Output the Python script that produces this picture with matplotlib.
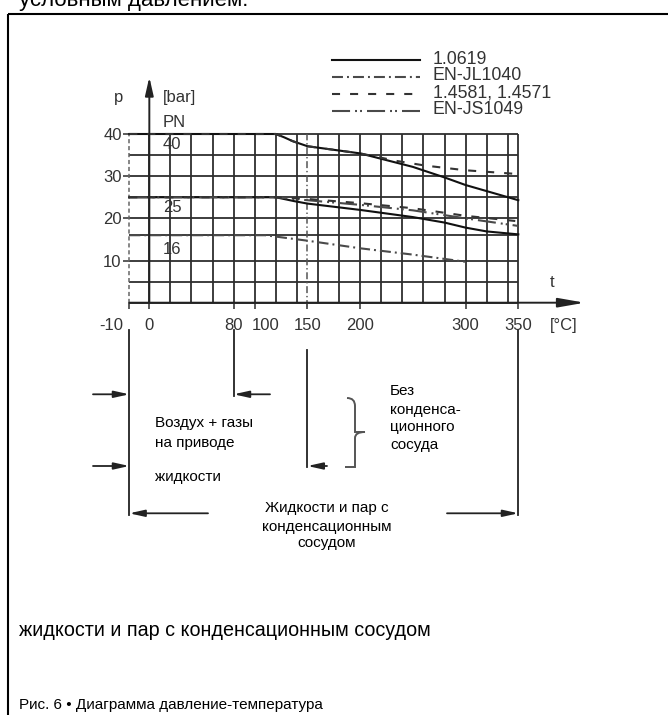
import numpy as np
import matplotlib
matplotlib.use('Agg')
import matplotlib.pyplot as plt
from matplotlib.path import Path
from matplotlib.patches import PathPatch

plt.rcParams['font.family'] = ['Liberation Sans', 'DejaVu Sans']
plt.rcParams['lines.scale_dashes'] = False

# values
series_names = ['1.0619', 'EN-JL1040', '1.4581, 1.4571', 'EN-JS1049']

# PN 40
t_1_0619_pn40 = [-10, 120, 128, 136, 150, 200, 250, 280, 300, 350]
p_1_0619_pn40 = [40, 40, 39.2, 38.3, 37.1, 35.4, 32.2, 29.7, 27.9, 24.3]
t_1_4581_pn40 = [-10, 120, 128, 136, 150, 200, 235, 262, 300, 350]
p_1_4581_pn40 = [40, 40, 39.2, 38.3, 37.1, 35.4, 33.6, 32.5, 31.4, 30.5]
# PN 25
t_1_0619_pn25 = [-10, 120, 137, 150, 200, 250, 280, 300, 320, 350]
p_1_0619_pn25 = [25, 25, 24.1, 23.5, 22.0, 20.3, 19.0, 17.8, 16.9, 16.2]
t_1_4581_pn25 = [-10, 120, 150, 200, 250, 300, 350]
p_1_4581_pn25 = [25, 25, 24.6, 23.6, 22.4, 20.6, 19.3]
t_js1049_pn25 = [-10, 120, 150, 200, 250, 300, 350]
p_js1049_pn25 = [25, 25, 24.3, 23.2, 21.9, 20.0, 18.2]
# PN 16
t_jl1040_pn16 = [-10, 110, 150, 200, 250, 300]
p_jl1040_pn16 = [16, 16, 14.7, 12.9, 11.4, 9.7]

grid_t = list(range(0, 341, 20)) + [350]
grid_p = [0, 5, 10, 16, 20, 25, 30, 35, 40]
xtick_vals = [-10, 0, 80, 100, 150, 200, 300, 350]
xtick_labels = ['-10', '0', '80', '100', '150', '200', '300', '350']
xlabel_pos = [-13, 0, 80, 110, 150, 200, 300, 350]
ytick_vals = [10, 20, 30, 40]
pn_labels = ['40', '25', '16']
pn_label_p = [37.5, 22.5, 12.5]

INK = '#222222'
GRID = '#2e2e2e'
GREY = '#4a4a4a'
TXT = '#333333'
styles = {
    '1.0619': dict(color='#111111', ls='-'),
    'EN-JL1040': dict(color=GREY, ls=(0, (7.9, 2.9, 1.4, 2.9))),
    '1.4581, 1.4571': dict(color='#333333', ls=(0, (5.8, 7.2))),
    'EN-JS1049': dict(color=GREY, ls=(0, (13, 3.6, 1.4, 2.2, 1.4, 3.6))),
}


def fwd(t):
    t = np.asarray(t, dtype=float)
    return np.where(t < 0, t * 1.9, t)


def inv(x):
    x = np.asarray(x, dtype=float)
    return np.where(x < 0, x / 1.9, x)


fig = plt.figure(figsize=(6.68, 7.15), dpi=100)

# overlay in pixel coordinates for the frame and the notes
ax_o = fig.add_axes([0, 0, 1, 1])
ax_o.set_xlim(0, 668)
ax_o.set_ylim(715, 0)
ax_o.axis('off')

ax = fig.add_axes([129.3 / 668, (715 - 302.7) / 715, 389 / 668, 168.7 / 715])
ax.set_facecolor('none')
ax.set_xscale('function', functions=(fwd, inv))
ax.set_xlim(-10, 350)
ax.set_ylim(0, 40)
for s in ax.spines.values():
    s.set_visible(False)

# grid
ax.vlines(grid_t, 0, 40, color=GRID, lw=1.3, clip_on=False, zorder=1)
ax.hlines(grid_p, -10, 350, color=GRID, lw=1.3, clip_on=False, zorder=1)
ax.vlines(-10, 0, 40, color='#666666', lw=1.1, ls=(0, (3, 2)), clip_on=False, zorder=2)
ax.vlines(150, -1, 40, color='#555555', lw=1.1, ls=(0, (5, 2, 1, 2)), clip_on=False, zorder=2)

# curves
curves = [
    ('1.0619', t_1_0619_pn40, p_1_0619_pn40),
    ('1.4581, 1.4571', t_1_4581_pn40, p_1_4581_pn40),
    ('1.0619', t_1_0619_pn25, p_1_0619_pn25),
    ('EN-JS1049', t_js1049_pn25, p_js1049_pn25),
    ('1.4581, 1.4571', t_1_4581_pn25, p_1_4581_pn25),
    ('EN-JL1040', t_jl1040_pn16, p_jl1040_pn16),
]
for name, t, p in curves:
    st = styles[name]
    ax.plot(t, p, color=st['color'], ls=st['ls'], lw=1.5, clip_on=False, zorder=3)

# axes arrows
ax.annotate('', xy=(0, 53.5), xytext=(0, 0), annotation_clip=False,
            arrowprops=dict(arrowstyle='-|>,head_length=1.1,head_width=0.25', lw=1.4,
                            color=INK, shrinkA=0, shrinkB=0, mutation_scale=10))
ax.annotate('', xy=(413, 0), xytext=(-10, 0), annotation_clip=False,
            arrowprops=dict(arrowstyle='-|>,head_length=1.6,head_width=0.28', lw=1.4,
                            color=INK, shrinkA=0, shrinkB=0, mutation_scale=10))

# ticks
ax.set_xticks(xtick_vals)
ax.set_xticklabels([])
ax.tick_params(axis='x', length=4, width=1.1, color=GRID, direction='out')
ax.set_yticks(ytick_vals)
ax.set_yticklabels([str(v) for v in ytick_vals], fontsize=12, color=TXT)
ax.tick_params(axis='y', length=4, width=1.1, color=GRID, pad=1.5)
ax.minorticks_off()

tfs = 12
for pos, lab in zip(xlabel_pos, xtick_labels):
    ax.text(pos, -5.3, lab, ha='right' if lab == '-10' else 'center', va='center',
            fontsize=tfs, color=TXT, clip_on=False)
ax.text(-15.6, 48.7, 'p', ha='center', va='center', fontsize=tfs, color=TXT)
ax.text(13, 48.7, '[bar]', ha='left', va='center', fontsize=tfs, color=TXT)
ax.text(13, 42.8, 'PN', ha='left', va='center', fontsize=tfs, color=TXT)
for lab, pv in zip(pn_labels, pn_label_p):
    ax.text(13, pv, lab, ha='left', va='center', fontsize=tfs, color=TXT)
ax.text(382, 4.7, 't', ha='center', va='center', fontsize=tfs, color=TXT)
ax.text(393, -5.3, '[°C]', ha='center', va='center', fontsize=tfs, color=TXT)

# legend drawn by hand, top right of the chart
for i, name in enumerate(series_names):
    y = 60 + 17 * i
    st = styles[name]
    ax_o.plot([331.7, 420], [y, y], color=st['color'], ls=st['ls'], lw=1.5)
    ax_o.text(433, y - 1, name, ha='left', va='center', fontsize=12.8, color=TXT)


def tx(t):
    return ax.transData.transform((t, 0))[0]


# brackets below the diagram
x_m10, x_80, x_150, x_350 = tx(-10), tx(80), tx(150), tx(350)
lk = dict(color=INK, lw=1.3)
ax_o.plot([x_m10, x_m10], [330, 515], **lk)
ax_o.plot([x_80, x_80], [330, 396], **lk)
ax_o.plot([x_150, x_150], [350, 467], **lk)
ax_o.plot([x_350, x_350], [330, 515], **lk)

arrows = [
    ((93, 394.3), (x_m10, 394.3)),
    ((93, 466), (x_m10, 466)),
    ((270, 394.3), (x_80, 394.3)),
    ((327, 466), (x_150, 466)),
    ((208, 513.3), (x_m10, 513.3)),
    ((447, 513.3), (x_350, 513.3)),
]
for tail, head in arrows:
    ax_o.annotate('', xy=head, xytext=tail,
                  arrowprops=dict(arrowstyle='-|>,head_length=0.9,head_width=0.2', lw=1.3,
                                  color=INK, shrinkA=0, shrinkB=0, mutation_scale=10))

brace = Path([(347, 398), (355, 398), (355, 406), (355, 414),
              (355, 426), (355, 432), (365, 432),
              (355, 432), (355, 438), (355, 450),
              (355, 458), (355, 467), (345, 467)],
             [Path.MOVETO, Path.CURVE3, Path.CURVE3, Path.LINETO,
              Path.CURVE3, Path.CURVE3, Path.LINETO,
              Path.CURVE3, Path.CURVE3, Path.LINETO,
              Path.CURVE3, Path.CURVE3, Path.LINETO])
ax_o.add_patch(PathPatch(brace, fill=False, edgecolor='#555555', lw=1.4))

nfs = 11
notes_left = [('Воздух + газы', 423.3), ('на приводе', 442.7), ('жидкости', 476.7)]
for s, y in notes_left:
    ax_o.text(155, y, s, ha='left', va='center', fontsize=nfs, color='black')
notes_right = [('Без', 390.7), ('конденса-', 410), ('ционного', 426.7), ('сосуда', 445)]
for s, y in notes_right:
    ax_o.text(390, y, s, ha='left', va='center', fontsize=nfs, color='black')
notes_mid = [('Жидкости и пар с', 508.3), ('конденсационным', 526.7), ('сосудом', 543.3)]
for s, y in notes_mid:
    ax_o.text(326.7, y, s, ha='center', va='center', fontsize=nfs, color='black')

# frame and page text
ax_o.plot([7.5, 7.5], [715, 13.5], color='black', lw=1.5, solid_capstyle='butt')
ax_o.plot([7.5, 668], [13.5, 13.5], color='black', lw=1.5, solid_capstyle='butt')
ax_o.text(19, 6, 'условным давлением.', ha='left', va='baseline', fontsize=16, color='black')
ax_o.text(19, 630, 'жидкости и пар с конденсационным сосудом', ha='left', va='center',
          fontsize=14.2, color='black')
ax_o.text(19, 705, 'Рис. 6 • Диаграмма давление-температура', ha='left', va='center',
          fontsize=11, color='black')

fig.savefig('out.png', dpi=100)
